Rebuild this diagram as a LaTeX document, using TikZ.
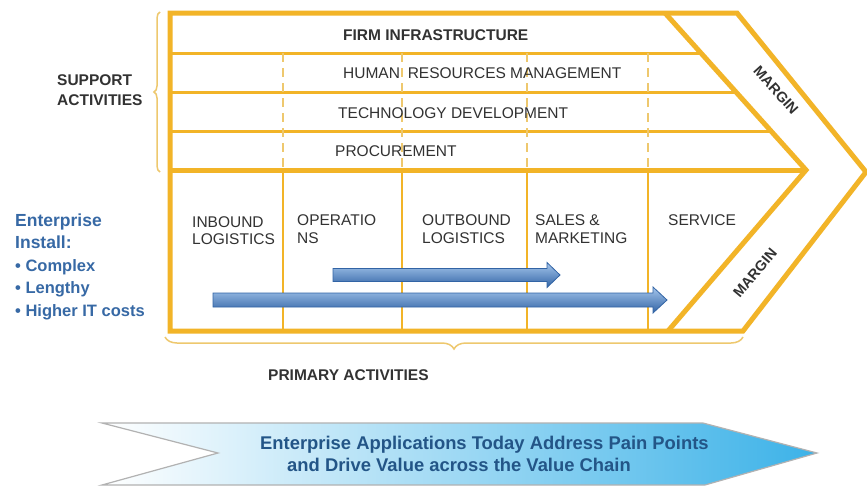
\documentclass[tikz,border=0pt]{standalone}
\usepackage{fontspec}
\setmainfont{Liberation Sans}
\usetikzlibrary{decorations.pathreplacing}
\definecolor{gold}{RGB}{242,180,40}
\definecolor{goldlight}{RGB}{238,200,110}
\definecolor{labelgray}{RGB}{50,50,50}
\definecolor{steel}{RGB}{55,105,165}
\definecolor{bannertext}{RGB}{35,85,135}
\definecolor{arrowtop}{RGB}{165,198,236}
\definecolor{arrowmid}{RGB}{90,145,210}
\definecolor{arrowbot}{RGB}{50,100,165}
\definecolor{bannermid}{RGB}{200,232,248}
\definecolor{bannerend}{RGB}{60,178,232}
\begin{document}
\begin{tikzpicture}[x=1pt,y=-1pt,
  frameline/.style={draw=gold,line width=5pt,line join=miter},
  rowline/.style={draw=gold,line width=3pt},
  coldiv/.style={draw=gold,line width=2.5pt},
  dashdiv/.style={draw=goldlight,line width=2pt,dash pattern=on 9pt off 6pt},
  bracestyle/.style={draw=goldlight,line width=1.5pt,decorate},
  lbl/.style={font=\fontsize{15.5}{17}\selectfont,text=labelgray,inner sep=0pt,anchor=base west},
  blbl/.style={lbl,font=\fontsize{15.5}{17}\selectfont\bfseries},
  mlbl/.style={font=\fontsize{14.5}{16}\selectfont\bfseries,text=labelgray,inner sep=0pt},
  entstyle/.style={font=\fontsize{17.5}{20}\selectfont\bfseries,text=steel,inner sep=0pt,anchor=base west},
  bulstyle/.style={font=\fontsize{16.5}{19}\selectfont\bfseries,text=steel,inner sep=0pt,anchor=base west},
  bantext/.style={font=\fontsize{18.4}{21}\selectfont\bfseries,text=bannertext,inner sep=0pt,anchor=base west},
  bluearrow/.style={top color=arrowtop,middle color=arrowmid,bottom color=arrowbot,draw=arrowbot,line width=0.8pt}
]
\fill[white] (0,0) rectangle (867,490);
\useasboundingbox (0,0) rectangle (867,490);

% support row lines
\draw[rowline] (170,53) -- (700.9,53);
\draw[rowline] (170,92) -- (735.9,92);
\draw[rowline] (170,131) -- (771,131);
% dashed dividers in support
\foreach \xx in {283,402,527,648} \draw[dashdiv] (\xx,53) -- (\xx,170);
% column dividers in primary
\foreach \xx in {283,402,527,648} \draw[coldiv] (\xx,170) -- (\xx,331);
% frame
\draw[frameline] (170,13) -- (737,13) -- (866,172) -- (743,331) -- (170,331) -- cycle;
\draw[frameline] (665,13) -- (806,170) -- (668,331);
\draw[frameline] (170,170) -- (806,170);

% braces
\draw[bracestyle,decoration={brace,amplitude=6pt}] (160,172) -- (160,12);
\draw[bracestyle,decoration={brace,amplitude=12pt}] (743,337) -- (165,337);

% support labels
\node[blbl] (fi) at (343,40) {FIRM INFRASTRUCTURE};
\node[lbl] (hr) at (343,78) {HUMAN\enspace RESOURCES MANAGEMENT};
\node[lbl] (td) at (338,118) {TECHNOLOGY DEVELOPMENT};
\node[lbl] (pr) at (335,156) {PROCUREMENT};

% primary labels
\node[lbl] (inb1) at (192,227) {INBOUND};
\node[lbl] (inb2) at (192,244) {LOGISTICS};
\node[lbl] (ops1) at (297,225) {OPERATIO};
\node[lbl] (ops2) at (297,243) {NS};
\node[lbl] (out1) at (422,225) {OUTBOUND};
\node[lbl] (out2) at (422,243) {LOGISTICS};
\node[lbl] (sal1) at (535,225) {SALES \&};
\node[lbl] (sal2) at (535,243) {MARKETING};
\node[lbl] (serv) at (668,225) {SERVICE};

% margins
\node[mlbl,rotate=-48] (m1) at (776,90) {MARGIN};
\node[mlbl,rotate=50] (m2) at (755,273) {MARGIN};

% side labels
\node[blbl] (sup1) at (57,85) {SUPPORT};
\node[blbl] (sup2) at (57,105) {ACTIVITIES};
\node[blbl] (prim) at (268,380) {PRIMARY ACTIVITIES};

% enterprise install
\node[entstyle] (e1) at (15,226) {Enterprise};
\node[entstyle] (e2) at (15,248) {Install:};
\node[bulstyle] (e3) at (15,271) {• Complex};
\node[bulstyle] (e4) at (15,293) {• Lengthy};
\node[bulstyle] (e5) at (15,316) {• Higher IT costs};

% blue arrows
\shade[bluearrow] (333,268.5) -- (547,268.5) -- (547,262.5) -- (560,275) -- (547,287.5) -- (547,281.5) -- (333,281.5) -- cycle;
\shade[bluearrow] (213,293) -- (653,293) -- (653,287) -- (667,300) -- (653,313) -- (653,307) -- (213,307) -- cycle;

% banner
\shade[left color=white,middle color=bannermid,right color=bannerend]
  (102,423) -- (703,423) -- (817,453) -- (705,485) -- (102,485) -- (218,453) -- cycle;
\draw[gray!60,line width=1.2pt,line join=miter]
  (102,423) -- (703,423) -- (817,453) -- (705,485) -- (102,485) -- (218,453) -- cycle;
\node[bantext] (b1) at (260,449.5) {Enterprise Applications Today Address Pain Points};
\node[bantext] (b2) at (287,471.5) {and Drive Value across the Value Chain};
\end{tikzpicture}
\end{document}
